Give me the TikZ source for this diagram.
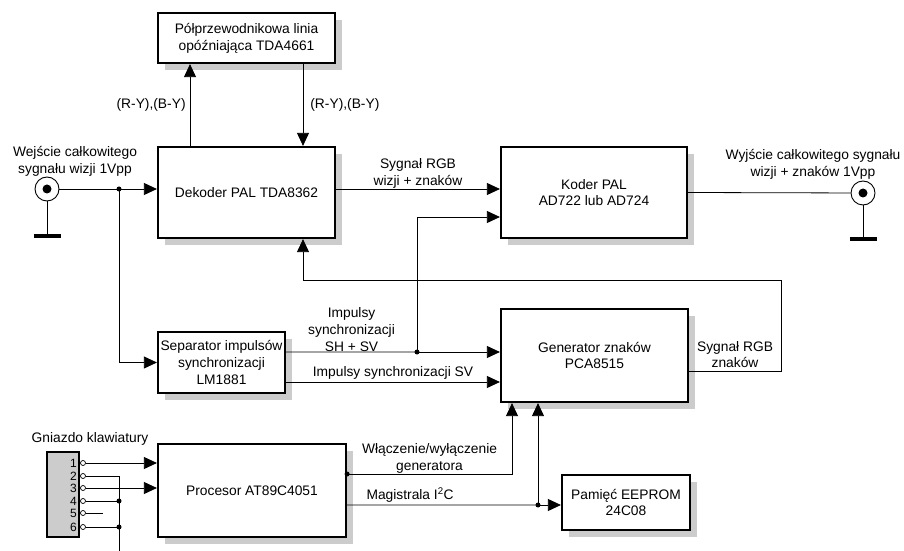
\documentclass[tikz,border=0pt]{standalone}
\usepackage{fontspec}
\setmainfont{Liberation Sans}
\usetikzlibrary{arrows.meta, positioning}

\tikzset{
  blok/.style={draw, line width=2.2bp, fill=white, align=center, inner sep=1bp},
  cien/.style={fill=black!20},
  wire/.style={line width=0.8bp},
  lab/.style={align=center, inner sep=1.5bp},
  dot/.style={circle, fill, inner sep=0pt, minimum size=5bp},
  pin/.style={circle, draw, line width=0.7bp, fill=white, inner sep=0pt, minimum size=5bp},
  bnc/.style={circle, draw, line width=0.9bp, inner sep=0pt, minimum size=24bp},
  ground/.style={line width=3.5bp},
}

\begin{document}
\begin{tikzpicture}[x=1bp, y=-1bp, >={Triangle[length=13bp,width=12bp]},
  font=\fontsize{13.8bp}{16.8bp}\selectfont]
  \useasboundingbox (0,0) rectangle (904,551);

  % cienie blokow (x1/y1/x2/y2)
  \foreach \xa/\ya/\xb/\yb in {158/13/335/63, 158/147/335/238, 501/147/687/238,
      158/332/285/393, 501/309/688/402, 158/444/346/537, 562/475/690/530}
    \path[cien] (\xa+7,\ya+7) rectangle (\xb+7,\yb+7);

  % bloki
  \node[blok, minimum width=177bp, minimum height=50bp] (delay) at (246.5,38)
    {Półprzewodnikowa linia\\opóźniająca TDA4661};
  \node[blok, minimum width=177bp, minimum height=91bp] (dek) at (246.5,192.5)
    {Dekoder PAL TDA8362};
  \node[blok, minimum width=186bp, minimum height=91bp] (koder) at (594,192.5)
    {Koder PAL\\AD722 lub AD724};
  \node[blok, minimum width=127bp, minimum height=61bp] (sep) at (221.5,362.5)
    {Separator impulsów\\synchronizacji\\LM1881};
  \node[blok, minimum width=187bp, minimum height=93bp] (gen) at (594.5,355.5)
    {Generator znaków\\PCA8515};
  \node[blok, minimum width=188bp, minimum height=93bp] (proc) at (252,490.5)
    {Procesor AT89C4051};
  \node[blok, minimum width=128bp, minimum height=55bp] (eep) at (626,502.5)
    {Pamięć EEPROM\\24C08};

  % gniazda BNC
  \node[lab] (tin) at (75,161) {Wejście całkowitego\\sygnału wizji 1Vpp};
  \node[bnc] (inp) at (47,189) {};
  \fill (inp.center) circle[radius=4.5bp];
  \coordinate (gin) at (47,236);
  \draw[wire] (inp.south) -- (gin);
  \draw[ground] ([xshift=-13.5bp]gin) -- ([xshift=13.5bp]gin);

  \node[lab] (tout) at (813,164) {Wyjście całkowitego sygnału\\wizji + znaków 1Vpp};
  \node[bnc] (outp) at (863,193) {};
  \fill (outp.center) circle[radius=4.5bp];
  \coordinate (gout) at (863,239);
  \draw[wire] (outp.south) -- (gout);
  \draw[ground] ([xshift=-13.5bp]gout) -- ([xshift=13.5bp]gout);

  % wejscie -> dekoder, separator
  \coordinate (jin) at (119,189);
  \draw[wire] (inp) -- (jin);
  \draw[wire,->] (jin) -- (jin -| dek.west);
  \draw[wire,->] (jin) |- (sep.west);
  \node[dot] (djin) at (jin) {};

  % linia opozniajaca
  \draw[wire,->] ([xshift=-56.5bp]dek.north) --
    node[lab, left, inner sep=4bp]{(R-Y),(B-Y)} ([xshift=-56.5bp]delay.south);
  \draw[wire,->] ([xshift=56.5bp]delay.south) --
    node[lab, right, inner sep=7bp]{(R-Y),(B-Y)} ([xshift=56.5bp]dek.north);

  % dekoder -> koder -> wyjscie
  \draw[wire,->] ([yshift=3.5bp]dek.east) --
    node[lab, above, inner sep=0.5bp]{Sygnał RGB\\wizji + znaków} ([yshift=3.5bp]koder.west);
  \draw[wire] (koder.east) -- (outp);

  % separator -> generator
  \coordinate (jsh) at (417,352);
  \draw[wire] ([yshift=10.5bp]sep.east) --
    node[lab, above, inner sep=0pt]{Impulsy\\synchronizacji\\SH + SV} (jsh);
  \draw[wire,->] (jsh) -- (jsh -| gen.west);
  \draw[wire,->] (jsh) |- ([yshift=-24.5bp]koder.west);
  \node[dot] (djsh) at (jsh) {};
  \draw[wire,->] ([yshift=-19.5bp]sep.east) --
    node[lab, above, inner sep=2bp]{Impulsy synchronizacji SV} ([yshift=-19.5bp]sep.east -| gen.west);

  % generator -> dekoder
  \coordinate (fbr) at (781,280);
  \coordinate (dekS) at ([xshift=56.5bp]dek.south);
  \draw[wire,->] ([yshift=-15.5bp]gen.east) --
    node[lab, above, inner sep=2.5bp]{Sygnał RGB\\znaków} ([yshift=-15.5bp]gen.east -| fbr)
    -- (fbr) -- (fbr -| dekS) -- (dekS);

  % procesor -> generator, pamiec
  \coordinate (jpr) at ([yshift=16.5bp]proc.east);
  \coordinate (gw) at ([xshift=-82.5bp]gen.south);
  \draw[wire,->] (jpr) --
    node[lab, above, inner sep=0pt]{Włączenie/wyłączenie\\generatora} (jpr -| gw) -- (gw);
  \node[dot] (djpr) at (jpr) {};
  \coordinate (jbus) at (538,505);
  \draw[wire] ([yshift=-14.5bp]proc.east) --
    node[lab, above, pos=0.33, inner sep=2bp]{Magistrala I\textsuperscript{2}C} (jbus);
  \draw[wire,->] (jbus) -- (jbus -| eep.west);
  \draw[wire,->] (jbus) -- (jbus |- gen.south);
  \node[dot] (djbus) at (jbus) {};

  % gniazdo klawiatury
  \node[lab] (tkb) at (90,439) {Gniazdo klawiatury};
  \node[draw, line width=2bp, fill=black!20, minimum width=32bp, minimum height=85bp] (kb) at (63,494.5) {};
  \foreach \n/\y in {1/463,2/476,3/488,4/501,5/513,6/527} {
    \node[anchor=east, inner sep=0pt, font=\fontsize{12bp}{12bp}\selectfont] (n\n) at (77,\y) {\n};
    \node[pin] (p\n) at (83,\y) {};
  }
  \coordinate (kbus) at (119,551);
  \draw[wire,->] (p1) -- (p1 -| proc.west);
  \draw[wire,->] (p3) -- (p3 -| proc.west);
  \draw[wire] (p2) -| (kbus);
  \draw[wire] (p4) -- (p4 -| kbus) node[dot] (dk4) {};
  \draw[wire] (p6) -- (p6 -| kbus) node[dot] (dk6) {};
  \draw[wire] (p5) -- ++(20,0);
\end{tikzpicture}
\end{document}
